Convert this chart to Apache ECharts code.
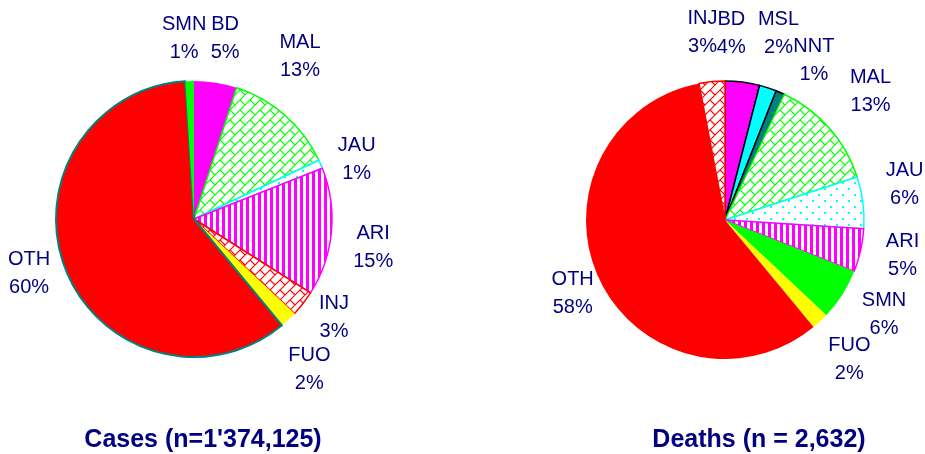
<!DOCTYPE html>
<html><head><meta charset="utf-8">
<script src="https://cdn.jsdelivr.net/npm/echarts@6/dist/echarts.min.js"></script>
<style>html,body{margin:0;padding:0;background:#fff}#c{width:925px;height:454px}</style>
</head><body><div id="c"></div>
<script>
// ---- data ----
const casesCategories = ['BD','MAL','JAU','ARI','INJ','FUO','OTH','SMN'];
const casesValues     = [5, 13, 1, 15, 3, 2, 60, 1];
const deathsCategories = ['BD','MSL','NNT','MAL','JAU','ARI','SMN','FUO','OTH','INJ'];
const deathsValues     = [4, 2, 1, 13, 6, 5, 6, 2, 58, 3];
const casesTitle = "Cases (n=1'374,125)";
const deathsTitle = 'Deaths (n = 2,632)';

// ---- label nudges (styling only) ----
const casesLabelNudge = {SMN:[-4,5],BD:[2,3],MAL:[-17,-23],JAU:[-8,14],ARI:[-6,11],INJ:[-7,-16],FUO:[-12,15],OTH:[8,-14]};
const deathsLabelNudge = {BD:[-17,-2],MSL:[-4,-10],NNT:[15,11],MAL:[6,-6],JAU:[-5,-12],ARI:[-4,-5],SMN:[2,-5],FUO:[-3,4],OTH:[16,-6],INJ:[-5,-2]};

// ---- patterns ----
function brick(color){
  const s=10, h=5;
  const c=document.createElement('canvas'); c.width=c.height=s;
  const g=c.getContext('2d'); g.fillStyle='#fff'; g.fillRect(0,0,s,s);
  g.strokeStyle=color; g.lineWidth=1.2; g.beginPath();
  g.moveTo(-1,s+1); g.lineTo(s+1,-1);
  g.moveTo(-1,1); g.lineTo(1,-1);
  g.moveTo(s-1,s+1); g.lineTo(s+1,s-1);
  g.moveTo(0,0); g.lineTo(h,h);
  g.moveTo(s,s); g.lineTo(s+h,s+h);
  g.stroke(); return c;
}
function dots(color){
  const c=document.createElement('canvas'); c.width=12; c.height=12;
  const g=c.getContext('2d'); g.fillStyle='#fff'; g.fillRect(0,0,12,12);
  g.fillStyle=color; g.fillRect(2,2,2,2); g.fillRect(8,8,2,2); return c;
}
function stripes(color){
  const c=document.createElement('canvas'); c.width=6; c.height=6;
  const g=c.getContext('2d'); g.fillStyle='#fff'; g.fillRect(0,0,6,6);
  g.fillStyle=color; g.fillRect(0,0,3,6); return c;
}
const pat = (cv)=>({image:cv, repeat:'repeat'});
const styles = {
  BD:{color:'#ff00ff'},
  MAL:{color:pat(brick('#00ff00')), borderColor:'#00ff00', borderWidth:1.5},
  JAU:{color:pat(dots('#00ffff')), borderColor:'#00ffff', borderWidth:1.5},
  ARI:{color:pat(stripes('#ff00ff')), borderColor:'#ff00ff', borderWidth:1.5},
  INJ:{color:pat(brick('#ff0000')), borderColor:'#ff0000', borderWidth:1.5},
  FUO:{color:'#ffff00'},
  OTH:{color:'#ff0000'},
  SMN:{color:'#00ff00'},
  MSL:{color:'#00ffff'},
  NNT:{color:'#008080'}
};
const casesBorders = {OTH:{borderColor:'#008080', borderWidth:2}};
const deathsBorders = {BD:{borderColor:'#000',borderWidth:1.5},MSL:{borderColor:'#000',borderWidth:1.5},NNT:{borderColor:'#000',borderWidth:1.5}};

function pieData(cats, vals, borders){
  return cats.map((n,i)=>({name:n, value:vals[i], itemStyle:Object.assign({borderWidth:0}, styles[n], borders[n]||{})}));
}
function labelData(cats, vals, nudge){
  return cats.map((n,i)=>({name:n, value:vals[i], label:{offset:nudge[n]||[0,0]}}));
}
const labelStyle = {show:true, position:'inside', formatter:'{b}\n{c}%', color:'#000080',
  fontFamily:'Liberation Sans, Arial, sans-serif', fontSize:20, lineHeight:28, rotate:0};

function pieSeries(center, r, cats, vals, borders){
  return {type:'pie', center:center, radius:r, silent:true, label:{show:false}, labelLine:{show:false},
    emphasis:{disabled:true}, animation:false, data:pieData(cats, vals, borders)};
}
function ringSeries(center, rr, cats, vals, nudge){
  return {type:'pie', center:center, radius:rr, silent:true, label:labelStyle, labelLine:{show:false},
    labelLayout:{hideOverlap:false}, avoidLabelOverlap:false,
    itemStyle:{color:'rgba(0,0,0,0)', borderWidth:0}, emphasis:{disabled:true}, animation:false,
    data:labelData(cats, vals, nudge)};
}

const chart = echarts.init(document.getElementById('c'), null, {renderer:'canvas'});
chart.setOption({
  backgroundColor:'#fff',
  animation:false,
  series:[
    pieSeries([194,219], 138, casesCategories, casesValues, casesBorders),
    ringSeries([194,219], [182,184], casesCategories, casesValues, casesLabelNudge),
    pieSeries([725,220], 139, deathsCategories, deathsValues, deathsBorders),
    ringSeries([725,220], [182,184], deathsCategories, deathsValues, deathsLabelNudge)
  ],
  graphic:[
    {type:'text', x:203, y:440, style:{text:casesTitle, textAlign:'center', textVerticalAlign:'middle',
      font:'bold 25px "Liberation Sans", Arial, sans-serif', fill:'#000080'}},
    {type:'text', x:759, y:440, style:{text:deathsTitle, textAlign:'center', textVerticalAlign:'middle',
      font:'bold 25px "Liberation Sans", Arial, sans-serif', fill:'#000080'}}
  ]
});
</script></body></html>
